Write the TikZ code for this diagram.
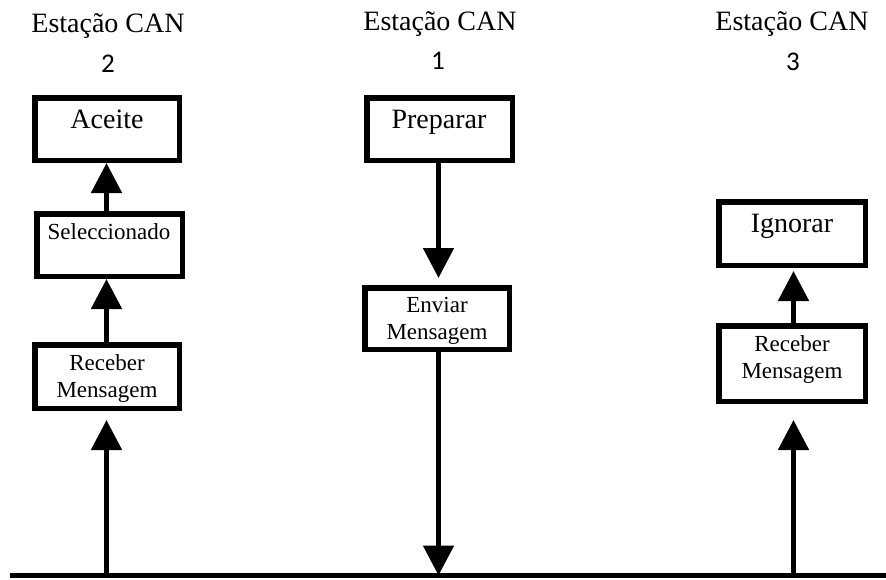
\documentclass[tikz,border=0pt]{standalone}
\usepackage{fontspec}
\setmainfont{Liberation Serif}
\newfontfamily\numfont{Carlito}
\usetikzlibrary{arrows.meta}
\begin{document}
\begin{tikzpicture}[x=1pt,y=-1pt,
  box/.style={draw, rectangle, line width=5.5pt, inner sep=0pt},
  bigtxt/.style={inner sep=0pt, font=\fontsize{28}{33}\selectfont},
  smalltxt/.style={inner sep=0pt, align=center, font=\fontsize{23}{27}\selectfont},
  titletxt/.style={inner sep=0pt, font=\fontsize{28}{33}\selectfont},
  numtxt/.style={inner sep=0pt, font=\numfont\fontsize{27}{32}\selectfont},
  arr/.style={line width=5pt, -{Triangle[width=30pt,length=30pt]}},
  busline/.style={line width=5pt}]
\useasboundingbox (0,0) rectangle (886,579);

% titles
\node[titletxt, anchor=base] (t2) at (108,32) {Estação CAN};
\node[numtxt, anchor=base] (n2) at (108,72) {2};
\node[titletxt, anchor=base] (t1) at (440,30) {Estação CAN};
\node[numtxt, anchor=base] (n1) at (438,69) {1};
\node[titletxt, anchor=base] (t3) at (792,30) {Estação CAN};
\node[numtxt, anchor=base] (n3) at (793,70) {3};

% boxes
\node[box, minimum width=144.5pt, minimum height=62.5pt] (aceite) at (107,129) {};
\node[box, minimum width=145.5pt, minimum height=62.5pt] (sel) at (109.5,245) {};
\node[box, minimum width=144.5pt, minimum height=63.5pt] (recL) at (107,376.5) {};
\node[box, minimum width=145.5pt, minimum height=62.5pt] (prep) at (439.5,129) {};
\node[box, minimum width=144.5pt, minimum height=61.5pt] (env) at (437,318.5) {};
\node[box, minimum width=146.5pt, minimum height=63.5pt] (ign) at (792,233.5) {};
\node[box, minimum width=146.5pt, minimum height=75.5pt] (recR) at (792,363.5) {};

% box texts
\node[bigtxt, anchor=base] (aceiteT) at (107,128) {Aceite};
\node[smalltxt, anchor=base] (selT) at (109,239) {Seleccionado};
\node[smalltxt] (recLT) at (107,378) {Receber\\Mensagem};
\node[bigtxt, anchor=base] (prepT) at (439,128) {Preparar};
\node[smalltxt] (envT) at (437,321) {Enviar\\Mensagem};
\node[bigtxt, anchor=base] (ignT) at (792,232) {Ignorar};
\node[smalltxt] (recRT) at (792,359) {Receber\\Mensagem};

% columns and bus
\coordinate (cL) at (106.5,0);
\coordinate (cM) at (438.5,0);
\coordinate (cR) at (793.5,0);
\coordinate (busA) at (10,575.5);
\coordinate (busB) at (886,575.5);
\draw[busline] (busA) -- (busB);

% arrows
\draw[arr] (sel.north -| cL) -- (aceite.south -| cL);
\draw[arr] (recL.north -| cL) -- (sel.south -| cL);
\draw[arr, shorten >=9pt] (busA -| cL) -- (recL.south -| cL);
\draw[arr, shorten >=7pt] (prep.south -| cM) -- (env.north -| cM);
\draw[arr] (env.south -| cM) -- (busA -| cM);
\draw[arr, shorten >=3pt] (recR.north -| cR) -- (ign.south -| cR);
\draw[arr, shorten >=16pt] (busA -| cR) -- (recR.south -| cR);
\end{tikzpicture}
\end{document}
